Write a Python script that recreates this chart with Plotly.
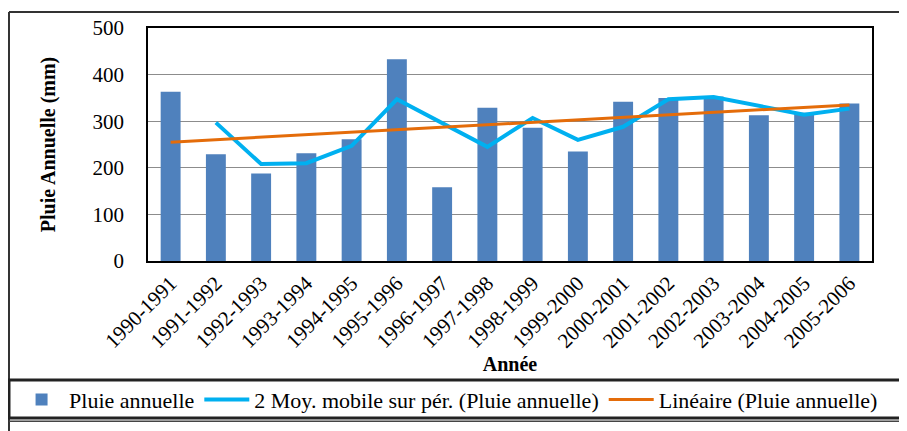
import plotly.graph_objects as go

# Data
annees = ['1990-1991', '1991-1992', '1992-1993', '1993-1994', '1994-1995', '1995-1996',
          '1996-1997', '1997-1998', '1998-1999', '1999-2000', '2000-2001', '2001-2002',
          '2002-2003', '2003-2004', '2004-2005', '2005-2006']
pluie_annuelle = [363, 229, 188, 231, 261, 433, 158, 329, 286, 235, 342, 350, 353, 313, 318, 338]
moy_mobile = [None, 297, 208, 210, 247, 347, 295, 245, 307, 260, 288, 347, 352, 333, 314, 327]
tendance_x = ['1990-1991', '2005-2006']
tendance_y = [255, 335]

serif = 'Liberation Serif'

fig = go.Figure()
fig.add_trace(go.Bar(name='Pluie annuelle', x=annees, y=pluie_annuelle,
                     marker_color='#4F81BD', marker_line_width=0))
fig.add_trace(go.Scatter(name='2 Moy. mobile sur pér. (Pluie annuelle)', x=annees, y=moy_mobile,
                         mode='lines', line=dict(color='#00B0F0', width=4)))
fig.add_trace(go.Scatter(name='Linéaire (Pluie annuelle)', x=tendance_x, y=tendance_y,
                         mode='lines', line=dict(color='#E46C0A', width=3)))

# the page body adds an 8px margin, so the figure is 8px smaller than the window
fig.update_layout(
    width=899, height=423,
    margin=dict(l=140, r=35, t=20, b=170, autoexpand=False),
    paper_bgcolor='white', plot_bgcolor='white',
    bargap=0.56,
    font=dict(family=serif, color='black', size=19),
    showlegend=True,
    legend=dict(orientation='h', x=-0.185, xanchor='left', y=-0.505, yanchor='top',
                font=dict(family=serif, size=22, color='black'),
                itemwidth=45, tracegroupgap=0, bgcolor='rgba(0,0,0,0)'),
)

fig.update_xaxes(
    tickangle=-45, tickfont=dict(family=serif, size=21, color='black'),
    showline=True, linecolor='black', linewidth=1.5, mirror=True,
    ticks='', showgrid=False, automargin=False,
    title=dict(text='<b>Année</b>', font=dict(family=serif, size=20, color='black'), standoff=4),
)
fig.update_yaxes(
    range=[0, 500], dtick=100, automargin=False,
    tickfont=dict(family=serif, size=21, color='black'),
    showline=True, linecolor='black', linewidth=1.5, mirror=True,
    showgrid=True, gridcolor='#8c8c8c', gridwidth=1, zeroline=False,
    ticks='outside', ticklen=18, tickcolor='rgba(0,0,0,0)',
    title=dict(text='<b>Pluie Annuelle (mm)</b>', font=dict(family=serif, size=20, color='black'),
               standoff=32),
)

# outer frame and legend box, as in the source document
fig.add_shape(type='line', xref='paper', yref='paper', x0=-0.192, x1=1.1, y0=1.069, y1=1.069,
              line=dict(color='#333333', width=2))
fig.add_shape(type='line', xref='paper', yref='paper', x0=-0.192, x1=-0.192, y0=1.069, y1=-0.75,
              line=dict(color='#333333', width=2))
fig.add_shape(type='rect', xref='paper', yref='paper', x0=-0.192, x1=1.1, y0=-0.511, y1=-0.674,
              line=dict(color='#222222', width=3))
fig.add_shape(type='line', xref='paper', yref='paper', x0=-0.192, x1=1.1, y0=-0.688, y1=-0.688,
              line=dict(color='#444444', width=1.5))

fig.write_html('out.html')
